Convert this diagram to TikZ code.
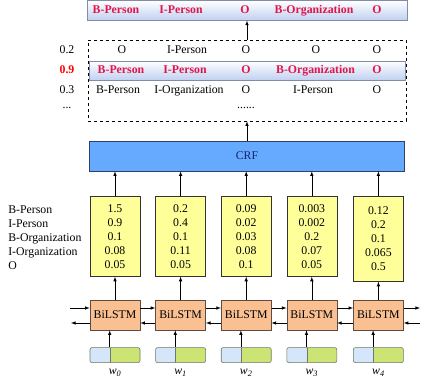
\documentclass[tikz,border=0pt]{standalone}
\usepackage{xcolor}
\usepackage{fontspec}
\setmainfont{Liberation Serif}
\usepackage{tikz}
\usetikzlibrary{shapes,arrows,positioning}

\definecolor{tagred}{RGB}{225,20,75}
\definecolor{bestblue}{RGB}{192,209,240}
\definecolor{bestline}{RGB}{130,140,165}
\definecolor{crfblue}{RGB}{102,170,255}
\definecolor{crfline}{RGB}{45,65,105}
\definecolor{crftext}{RGB}{20,35,110}
\definecolor{scoreyellow}{RGB}{255,255,153}
\definecolor{lstmorange}{RGB}{250,192,145}
\definecolor{lstmline}{RGB}{95,75,65}
\definecolor{embblue}{RGB}{214,230,250}
\definecolor{embgreen}{RGB}{204,228,115}
\definecolor{embline}{RGB}{110,120,110}

\begin{document}
\begin{tikzpicture}[x=1pt, y=-1pt, >=latex, node distance=15pt, line width=0.6pt,
    font=\rmfamily\fontsize{11.8}{14}\selectfont,
    lstm/.style={draw=lstmline, fill=lstmorange, minimum width=50pt, minimum height=30pt, inner sep=0pt},
    score/.style={draw=black!80, fill=scoreyellow, minimum width=50pt, minimum height=80pt, align=center, inner sep=0pt},
    emb/.style={draw=embline, fill=embgreen, rounded corners=2pt, minimum width=50pt, minimum height=15pt, inner sep=0pt,
        path picture={\fill[embblue] (path picture bounding box.south west) rectangle ([xshift=20pt]path picture bounding box.north west);
            \draw[embline] ([xshift=20pt]path picture bounding box.south west) -- ([xshift=20pt]path picture bounding box.north west);}},
    bestbar/.style={draw=bestline, top color=white, bottom color=bestblue, inner sep=0pt},
    tag/.style={text height=8pt, text depth=2.5pt, inner sep=0pt},
    besttag/.style={tag, font=\rmfamily\fontsize{11.8}{14}\selectfont\bfseries, text=tagred},
    word/.style={font=\rmfamily\fontsize{11.8}{14}\selectfont\itshape, inner sep=1pt}]
    \useasboundingbox (0,0) rectangle (429,383);

    % BiLSTM layer
    \node[lstm] (lstm0) at (115,315) {BiLSTM};
    \node[lstm, right=of lstm0] (lstm1) {BiLSTM};
    \node[lstm, right=of lstm1] (lstm2) {BiLSTM};
    \node[lstm, right=of lstm2] (lstm3) {BiLSTM};
    \node[lstm, right=16pt of lstm3] (lstm4) {BiLSTM};

    % word embeddings
    \node[emb, below=17pt of lstm0] (emb0) {};
    \node[emb, below=17pt of lstm1] (emb1) {};
    \node[emb, below=17pt of lstm2] (emb2) {};
    \node[emb, below=17pt of lstm3] (emb3) {};
    \node[emb, below=17pt of lstm4] (emb4) {};
    \node[word, below=5pt of emb0] (w0) {w\textsubscript{0}};
    \node[word, below=5pt of emb1] (w1) {w\textsubscript{1}};
    \node[word, below=5pt of emb2] (w2) {w\textsubscript{2}};
    \node[word, below=5pt of emb3] (w3) {w\textsubscript{3}};
    \node[word, below=5pt of emb4] (w4) {w\textsubscript{4}};

    % emission scores
    \node[score, above=23pt of lstm0] (score0) {1.5\\0.9\\0.1\\0.08\\0.05};
    \node[score, above=23pt of lstm1] (score1) {0.2\\0.4\\0.1\\0.11\\0.05};
    \node[score, above=23pt of lstm2] (score2) {0.09\\0.02\\0.03\\0.08\\0.1};
    \node[score, above=23pt of lstm3] (score3) {0.003\\0.002\\0.2\\0.07\\0.05};
    \node[score, minimum height=85pt, above=18pt of lstm4] (score4) {0.12\\0.2\\0.1\\0.065\\0.5};
    \node[align=left, anchor=west, inner sep=0pt] (tags) at (8,238) {B-Person\\I-Person\\B-Organization\\I-Organization\\O};

    % CRF and candidate paths
    \node[draw=crfline, fill=crfblue, text=crftext, minimum width=315pt, minimum height=30pt] (crf) at (247,156) {CRF};
    \node[draw, dashed, minimum width=318pt, minimum height=81pt] (cands) at (247,80.5) {};
    \node[bestbar, minimum width=316pt, minimum height=19pt] (bestrow) at (247,70.5) {};
    \node[bestbar, minimum width=320pt, minimum height=20pt] (top) at (247,10.25) {};

    \node[tag] (p1) at (67,51) {0.2};
    \node[tag, font=\rmfamily\fontsize{11.8}{14}\selectfont\bfseries, text=red] (p2) at (67,71) {0.9};
    \node[tag] (p3) at (67,91) {0.3};
    \node[inner sep=0pt] (p4) at (67,108) {...};

    \node[tag] (a1) at (122,51) {O};
    \node[tag] (a2) at (187,51) {I-Person};
    \node[tag] (a3) at (246,51) {O};
    \node[tag] (a4) at (316,51) {O};
    \node[tag] (a5) at (377,51) {O};

    \node[besttag] (b1) at (121,71) {B-Person};
    \node[besttag] (b2) at (185,71) {I-Person};
    \node[besttag] (b3) at (246,71) {O};
    \node[besttag] (b4) at (315.5,71) {B-Organization};
    \node[besttag] (b5) at (377,71) {O};

    \node[tag] (c1) at (118,91) {B-Person};
    \node[tag] (c2) at (189,91) {I-Organization};
    \node[tag] (c3) at (246,91) {O};
    \node[tag] (c4) at (313,91) {I-Person};
    \node[tag] (c5) at (377,91) {O};
    \node[inner sep=0pt] (c6) at (246,108) {......};

    \node[besttag] (t1) at (116,11) {B-Person};
    \node[besttag] (t2) at (181,11) {I-Person};
    \node[besttag] (t3) at (245,11) {O};
    \node[besttag] (t4) at (314,11) {B-Organization};
    \node[besttag] (t5) at (377,11) {O};

    % connectors
    \draw[->] (cands) -- (top);
    \draw[->] (crf) -- (cands);
    \draw[->] (score0.north) -- (score0.north |- crf.south);
    \draw[->] (score1.north) -- (score1.north |- crf.south);
    \draw[->] (score2.north) -- (score2.north |- crf.south);
    \draw[->] (score3.north) -- (score3.north |- crf.south);
    \draw[->] (score4.north) -- (score4.north |- crf.south);
    \draw[->] (lstm0) -- (score0);
    \draw[->] (lstm1) -- (score1);
    \draw[->] (lstm2) -- (score2);
    \draw[->] (lstm3) -- (score3);
    \draw[->] (lstm4) -- (score4);
    \draw[->] ([xshift=20pt]emb0.north west) -- ([xshift=20pt]emb0.north west |- lstm0.south);
    \draw[->] ([xshift=20pt]emb1.north west) -- ([xshift=20pt]emb1.north west |- lstm1.south);
    \draw[->] ([xshift=20pt]emb2.north west) -- ([xshift=20pt]emb2.north west |- lstm2.south);
    \draw[->] ([xshift=20pt]emb3.north west) -- ([xshift=20pt]emb3.north west |- lstm3.south);
    \draw[->] ([xshift=20pt]emb4.north west) -- ([xshift=20pt]emb4.north west |- lstm4.south);

    % forward and backward links
    \coordinate (inl) at (70,308);
    \coordinate (outl) at (71,323);
    \coordinate (outr) at (420,308);
    \coordinate (inr) at (420,323);
    \draw[->] (inl) -- (inl -| lstm0.west);
    \draw[->] (outl -| lstm0.west) -- (outl);
    \draw[->] ([yshift=7pt]lstm0.east) -- ([yshift=7pt]lstm1.west);
    \draw[->] ([yshift=7pt]lstm1.east) -- ([yshift=7pt]lstm2.west);
    \draw[->] ([yshift=7pt]lstm2.east) -- ([yshift=7pt]lstm3.west);
    \draw[->] ([yshift=7pt]lstm3.east) -- ([yshift=7pt]lstm4.west);
    \draw[->] ([yshift=-8pt]lstm1.west) -- ([yshift=-8pt]lstm0.east);
    \draw[->] ([yshift=-8pt]lstm2.west) -- ([yshift=-8pt]lstm1.east);
    \draw[->] ([yshift=-8pt]lstm3.west) -- ([yshift=-8pt]lstm2.east);
    \draw[->] ([yshift=-8pt]lstm4.west) -- ([yshift=-8pt]lstm3.east);
    \draw[->] (outr -| lstm4.east) -- (outr);
    \draw[->] (inr) -- (inr -| lstm4.east);
\end{tikzpicture}
\end{document}
